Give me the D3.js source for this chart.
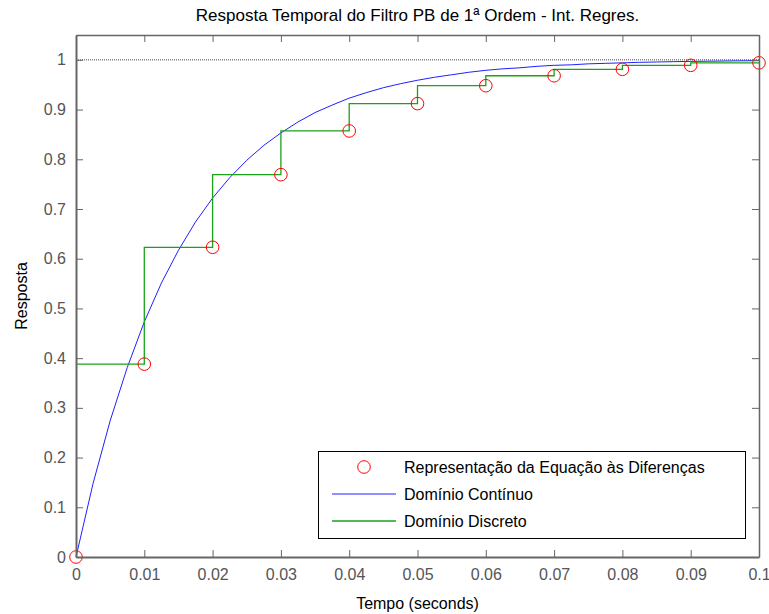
<!DOCTYPE html>
<html>
<head>
<meta charset="utf-8">
<script src="https://cdn.jsdelivr.net/npm/d3@7"></script>
<style>
  html, body { margin: 0; padding: 0; background: #fff; }
  svg { display: block; font-family: "Liberation Sans", Arial, sans-serif; }
</style>
</head>
<body>
<svg id="chart" width="769" height="614"></svg>
<script>
// Sample instants (s)
const sampleTimes = [0, 0.01, 0.02, 0.03, 0.04, 0.05, 0.06, 0.07, 0.08, 0.09, 0.1];
// Difference-equation output at each sample
const discreteValues = [0, 0.388, 0.623, 0.769, 0.857, 0.912, 0.948, 0.968, 0.981, 0.989, 0.994];

// Continuous-time response, sampled every 2.5 ms
const contTimes = [0, 0.0025, 0.005, 0.0075, 0.01, 0.0125, 0.015, 0.0175, 0.02, 0.0225,
  0.025, 0.0275, 0.03, 0.0325, 0.035, 0.0375, 0.04, 0.0425, 0.045, 0.0475,
  0.05, 0.0525, 0.055, 0.0575, 0.06, 0.0625, 0.065, 0.0675, 0.07, 0.0725,
  0.075, 0.0775, 0.08, 0.0825, 0.085, 0.0875, 0.09, 0.0925, 0.095, 0.0975, 0.1];
const contValues = [0, 0.148, 0.274, 0.381, 0.473, 0.551, 0.617, 0.674, 0.722, 0.763,
  0.798, 0.828, 0.853, 0.875, 0.894, 0.909, 0.923, 0.934, 0.944, 0.952,
  0.959, 0.965, 0.970, 0.975, 0.979, 0.982, 0.984, 0.987, 0.989, 0.990,
  0.992, 0.993, 0.994, 0.995, 0.9957, 0.9964, 0.9969, 0.9973, 0.9977, 0.9981, 0.9984];

// Step input level
const stepLevel = 1;

const xTicks = [0, 0.01, 0.02, 0.03, 0.04, 0.05, 0.06, 0.07, 0.08, 0.09, 0.1];
const xTickLabels = ["0", "0.01", "0.02", "0.03", "0.04", "0.05", "0.06", "0.07", "0.08", "0.09", "0.1"];
const yTicks = [0, 0.1, 0.2, 0.3, 0.4, 0.5, 0.6, 0.7, 0.8, 0.9, 1];
const yTickLabels = ["0", "0.1", "0.2", "0.3", "0.4", "0.5", "0.6", "0.7", "0.8", "0.9", "1"];

const legendLabels = ["Representação da Equação às Diferenças", "Domínio Contínuo", "Domínio Discreto"];

const titleText = "Resposta Temporal do Filtro PB de 1ª Ordem - Int. Regres.";
const xLabelText = "Tempo (seconds)";
const yLabelText = "Resposta";

const svg = d3.select("#chart");
const L = 76, R = 759, T = 35, B = 557;

const x = d3.scaleLinear().domain([0, 0.1]).range([L, R]);
const y = d3.scaleLinear().domain([0, 1.05]).range([B, T]);

const axisColor = "#666";
const labelColor = "#555";
const tickLen = 7;
const fs = 16;

// plot background
svg.append("rect").attr("x", L).attr("y", T).attr("width", R - L).attr("height", B - T).attr("fill", "#fff");

// Step input reference
svg.append("line")
  .attr("x1", x(0)).attr("x2", x(0.1))
  .attr("y1", y(stepLevel)).attr("y2", y(stepLevel))
  .attr("stroke", "#444").attr("stroke-width", 1).attr("stroke-dasharray", "1,1");

// Continuous response
const contData = contTimes.map((t, i) => [t, contValues[i]]);
svg.append("path")
  .datum(contData)
  .attr("fill", "none")
  .attr("stroke", "#2020ff")
  .attr("stroke-width", 1)
  .attr("d", d3.line().x(d => x(d[0])).y(d => y(d[1])));

// Discrete (held) output: each interval holds the next sample
const stairData = sampleTimes.slice(0, -1).map((t, i) => [t, discreteValues[i + 1]]);
stairData.push([sampleTimes[sampleTimes.length - 1], discreteValues[discreteValues.length - 1]]);
svg.append("path")
  .datum(stairData)
  .attr("fill", "none")
  .attr("stroke", "#1aa31a")
  .attr("stroke-width", 1.3)
  .attr("d", d3.line().curve(d3.curveStepAfter).x(d => x(d[0])).y(d => y(d[1])));

// Difference-equation samples
svg.append("g").selectAll("circle")
  .data(sampleTimes.map((t, i) => [t, discreteValues[i]]))
  .join("circle")
  .attr("cx", d => x(d[0])).attr("cy", d => y(d[1]))
  .attr("r", 6.3)
  .attr("fill", "none").attr("stroke", "#ff0000").attr("stroke-width", 1);

// Axes box
const bottomAxis = d3.axisBottom(x).tickValues(xTicks).tickFormat((d, i) => xTickLabels[i])
  .tickSizeInner(-tickLen).tickSizeOuter(0).tickPadding(12);
const leftAxis = d3.axisLeft(y).tickValues(yTicks).tickFormat((d, i) => yTickLabels[i])
  .tickSizeInner(-tickLen).tickSizeOuter(0).tickPadding(10);
const topAxis = d3.axisTop(x).tickValues(xTicks).tickFormat("").tickSizeInner(-tickLen).tickSizeOuter(0);
const rightAxis = d3.axisRight(y).tickValues(yTicks).tickFormat("").tickSizeInner(-tickLen).tickSizeOuter(0);

function styleAxis(g) {
  g.select(".domain").attr("stroke", axisColor).attr("stroke-width", 1.5);
  g.selectAll(".tick line").attr("stroke", axisColor).attr("stroke-width", 1);
  g.selectAll(".tick text").attr("fill", labelColor).attr("font-size", fs)
    .attr("font-family", "Liberation Sans, Arial, sans-serif");
}

svg.append("g").attr("transform", `translate(0,${T})`).call(topAxis).call(styleAxis);
svg.append("g").attr("transform", `translate(${R},0)`).call(rightAxis).call(styleAxis);
svg.append("g").attr("transform", `translate(0,${B})`).call(bottomAxis).call(styleAxis)
  .select(".domain").attr("stroke-width", 2);
svg.append("g").attr("transform", `translate(${L},0)`).call(leftAxis).call(styleAxis)
  .select(".domain").attr("stroke-width", 2);

// Title and axis labels
svg.append("text").attr("x", (L + R) / 2).attr("y", 21)
  .attr("text-anchor", "middle").attr("font-size", 17).attr("fill", "#000").text(titleText);
svg.append("text").attr("x", (L + R) / 2).attr("y", 609)
  .attr("text-anchor", "middle").attr("font-size", fs).attr("fill", "#000").text(xLabelText);
svg.append("text").attr("transform", `translate(27,${(T + B) / 2}) rotate(-90)`)
  .attr("text-anchor", "middle").attr("font-size", fs).attr("fill", "#000").text(yLabelText);

// Legend
const lg = svg.append("g");
lg.append("rect").attr("x", 318.5).attr("y", 451.5).attr("width", 427).attr("height", 87)
  .attr("fill", "#fff").attr("stroke", "#000").attr("stroke-width", 1);
const rowY = [467, 494, 521];
lg.append("circle").attr("cx", 364).attr("cy", rowY[0]).attr("r", 6.3)
  .attr("fill", "none").attr("stroke", "#ff0000").attr("stroke-width", 1);
lg.append("line").attr("x1", 332).attr("x2", 396).attr("y1", rowY[1]).attr("y2", rowY[1])
  .attr("stroke", "#2020ff").attr("stroke-width", 1);
lg.append("line").attr("x1", 332).attr("x2", 396).attr("y1", rowY[2]).attr("y2", rowY[2])
  .attr("stroke", "#1aa31a").attr("stroke-width", 1.3);
lg.selectAll("text.lab").data(legendLabels).join("text").attr("class", "lab")
  .attr("x", 404).attr("y", (d, i) => rowY[i] + 6)
  .attr("font-size", fs).attr("fill", "#000").text(d => d);
</script>
</body>
</html>
